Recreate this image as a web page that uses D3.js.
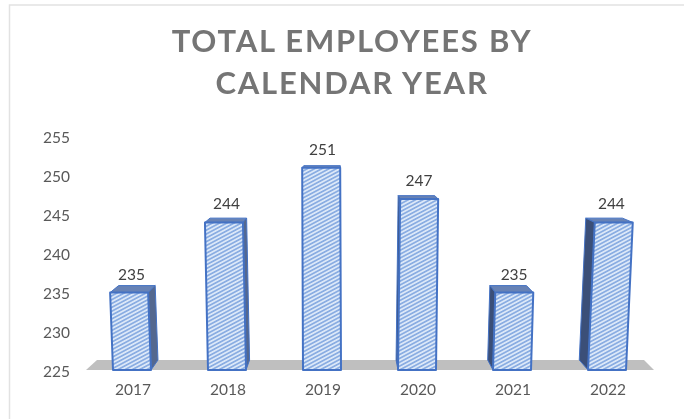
<!DOCTYPE html>
<html><head><meta charset="utf-8">
<script src="https://cdn.jsdelivr.net/npm/d3@7"></script>
<style>html,body{margin:0;padding:0;background:#fff}svg{display:block;filter:blur(0.35px)}text{font-family:Lato,sans-serif}</style>
</head><body><svg id="c" width="684" height="419"></svg>
<script>
const years = ["2017","2018","2019","2020","2021","2022"];
const employees = [235,244,251,247,235,244];
const yTicks = [225,230,235,240,245,250,255];
const titleLines = ["TOTAL EMPLOYEES BY","CALENDAR YEAR"];

const svg = d3.select("#c");
const x = d3.scaleBand().domain(years).range([84.5,654.5]).paddingInner(0.6).paddingOuter(0.3);
const y = d3.scaleLinear().domain([225,255]).range([370.6,136.6]);

const defs = svg.append("defs");
const pat = defs.append("pattern").attr("id","hatch").attr("patternUnits","userSpaceOnUse")
  .attr("width",4).attr("height",3.4).attr("patternTransform","rotate(-28)");
pat.append("rect").attr("width",4).attr("height",3.4).attr("fill","#dce8f8");
pat.append("rect").attr("width",4).attr("height",1.7).attr("fill","#8aade2");

svg.append("path").attr("d","M9.5,419V5H684").attr("fill","none").attr("stroke","#e2e2e2").attr("stroke-width",1.5);

const tg = svg.append("g").attr("text-anchor","middle").attr("fill","#757575")
  .attr("font-size",31).attr("font-weight",700).attr("letter-spacing",1.8);
tg.selectAll("text").data(titleLines).join("text")
  .attr("x",352).attr("y",(d,i)=>52+i*41.5).text(d=>d);

const VX=345, VY=113, KX=0.036, KY=0.039, SHEAR=1.75e-4;
const back=(p)=>[p[0]+(VX-p[0])*KX,p[1]+(VY-p[1])*KY];
const poly=a=>"M"+a.map(p=>p.join(",")).join("L")+"Z";

svg.append("path").attr("fill","#bfbfbf")
  .attr("d",poly([[86,370],[654,370],[644,360],[97,360]]));

const labelFont="Lato,sans-serif";
const yAxis=d3.axisLeft(y).tickValues(yTicks).tickSize(0).tickPadding(0);
const ga=svg.append("g").attr("transform","translate(70,0.8)").call(yAxis);
ga.select(".domain").remove();
ga.selectAll("text").attr("font-size",15.5).attr("fill","#595959").style("font-family",labelFont);

const xAxis=d3.axisBottom(x).tickSize(0).tickPadding(0);
const gx=svg.append("g").attr("transform","translate(1,384)").call(xAxis);
gx.select(".domain").remove();
gx.selectAll("text").attr("font-size",15.5).attr("fill","#595959").style("font-family",labelFont);

const bars=svg.append("g").selectAll("g").data(years.map((yr,i)=>({yr,v:employees[i]}))).join("g");
bars.each(function(d){
  const g=d3.select(this);
  const l=x(d.yr), r=l+x.bandwidth(), t=y(d.v), b=y(225)-0.6;
  const c=(l+r)/2, sh=(c-VX)*SHEAR*(b-t);
  const tl=[l+sh,t],tr=[r+sh,t],bl=[l,b],br=[r,b];
  const stroke="#4472c4";
  const add=(pts,fill,w)=>g.append("path").attr("d",poly(pts)).attr("fill",fill).attr("stroke",stroke).attr("stroke-width",w).attr("stroke-linejoin","round");
  add([tl,tr,back(tr),back(tl)],"#6782b5",1);
  if(back(tr)[0]>tr[0]+0.5) add([tr,br,back(br),back(tr)],"#54688f",1);
  if(back(tl)[0]<tl[0]-0.5) add([tl,bl,back(bl),back(tl)],"#3b4f78",1);
  add([tl,tr,br,bl],"url(#hatch)",2);
  g.append("text").attr("x",c+sh/2+1).attr("y",t-13)
    .attr("text-anchor","middle").attr("font-size",15.5).attr("fill","#404040").text(d.v);
});
</script></body></html>
